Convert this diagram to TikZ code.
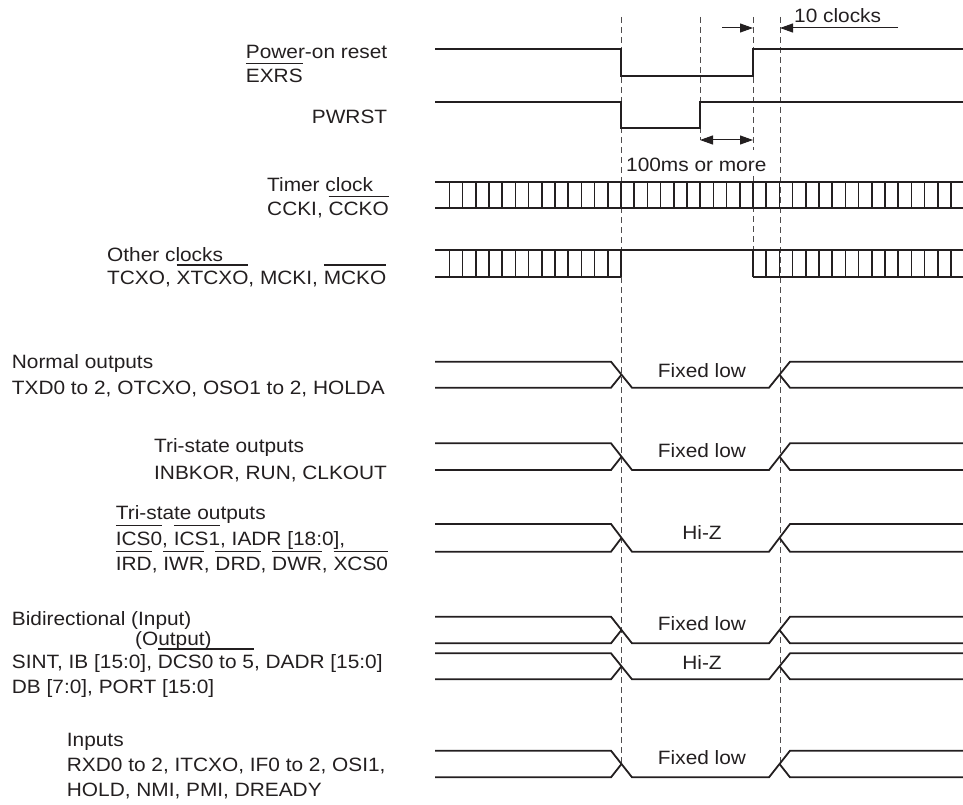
\documentclass[tikz,border=0pt]{standalone}
\usepackage{fontspec}
\setmainfont{Liberation Sans}[FakeStretch=1.08]
\usetikzlibrary{arrows.meta}
\definecolor{ink}{HTML}{231F20}
\newlength\ovlw
\newcommand\ovl[1]{\settowidth\ovlw{#1}\rlap{\rule[18.8pt]{\ovlw}{1.1pt}}#1}
\newcommand\busrow[2]{%
  \draw[sig] (435,#1) -- (611,#1) -- (632,#2) -- (769,#2) -- (790,#1) -- (963,#1);
  \draw[sig] (435,#2) -- (611,#2) -- (621.5,{(#1+#2)/2});
  \draw[sig] (779.5,{(#1+#2)/2}) -- (790,#2) -- (963,#2);}
\begin{document}
\begin{tikzpicture}[x=1pt,y=-1pt,
  lbl/.style={anchor=base west, inner sep=0pt, font=\fontsize{19.3}{23}\selectfont, text=ink},
  val/.style={anchor=base, inner sep=0pt, font=\fontsize{19.3}{23}\selectfont, text=ink},
  sig/.style={draw=ink, line width=1.8pt},
  clk/.style={draw=ink, line width=1.6pt},
  guide/.style={draw=ink!80, line width=0.9pt, dash pattern=on 6pt off 4pt},
  dim/.style={draw=ink, line width=1pt},
  tipr/.style={-{Triangle[length=13pt,width=9pt]}},
  tipb/.style={{Triangle[length=13pt,width=9pt]}-{Triangle[length=13pt,width=9pt]}}
]
\useasboundingbox (0,0) rectangle (963,805);

% guide lines
\draw[guide] (621,17) -- (621,764);
\draw[guide] (700,17) -- (700,140);
\draw[guide] (753,17) -- (753,150);
\draw[guide] (753,176) -- (753,250);
\draw[guide] (780,17) -- (780,764);

% labels
\node[lbl] (l1) at (245.7,58.3) {Power-on reset};
\node[lbl] (l2) at (245.7,82.7) {\ovl{EXRS}};
\node[lbl] (l3) at (311.7,123.3) {PWRST};
\node[lbl] (l4) at (267,191) {Timer clock};
\node[lbl] (l5) at (267,215.7) {CCKI, \ovl{CCKO}};
\node[lbl] (l6) at (107,261) {Other clocks};
\node[lbl] (l7) at (107,284.3) {TCXO, \ovl{XTCXO}, MCKI, \ovl{MCKO}};
\node[lbl] (l8) at (11.7,368.3) {Normal outputs};
\node[lbl] (l9) at (11.7,394) {TXD0 to 2, OTCXO, OSO1 to 2, HOLDA};
\node[lbl] (l10) at (154,452.7) {Tri-state outputs};
\node[lbl] (l11) at (154,479) {INBKOR, RUN, CLKOUT};
\node[lbl] (l12) at (115.7,519.3) {Tri-state outputs};
\node[lbl] (l13) at (115.7,545) {\ovl{ICS0}, \ovl{ICS1}, IADR [18:0],};
\node[lbl] (l14) at (115.7,570.7) {\ovl{IRD}, \ovl{IWR}, \ovl{DRD}, \ovl{DWR}, \ovl{XCS0}};
\node[lbl] (l15) at (11.7,625) {Bidirectional (Input)};
\node[lbl] (l16) at (135,645) {(Output)};
\node[lbl] (l17) at (11.7,668.3) {SINT, IB [15:0], \ovl{DCS0 to 5}, DADR [15:0]};
\node[lbl] (l18) at (11.7,693.3) {DB [7:0], PORT [15:0]};
\node[lbl] (l19) at (66.7,746.7) {Inputs};
\node[lbl] (l20) at (66.7,771.7) {RXD0 to 2, ITCXO, IF0 to 2, OSI1,};
\node[lbl] (l21) at (66.7,796.7) {HOLD, NMI, PMI, DREADY};

% EXRS and PWRST
\draw[sig] (435,49.3) -- (621,49.3) -- (621,76) -- (753,76) -- (753,49.3) -- (963,49.3);
\draw[sig] (435,102.3) -- (621,102.3) -- (621,128) -- (700,128) -- (700,102.3) -- (963,102.3);

% 10 clocks dimension
\coordinate (c10a) at (722,28);
\coordinate (c10b) at (753,28);
\coordinate (c10c) at (898,28);
\coordinate (c10d) at (780,28);
\draw[dim,tipr] (c10a) -- (c10b);
\draw[dim,tipr] (c10c) -- (c10d);
\node[lbl] (t10) at (794,22.5) {10 clocks};

% 100ms dimension
\coordinate (m1) at (700,140);
\coordinate (m2) at (753,140);
\draw[dim,tipb] (m1) -- (m2);
\node[lbl] (t100) at (626,172) {100ms or more};

% timer clock
\draw[clk] (435,182) -- (963,182);
\draw[clk] (435,208) -- (963,208);
\foreach \k in {0,...,38} \draw[clk] ({449.4+13.2*\k},182) -- ({449.4+13.2*\k},208);

% other clocks
\draw[clk] (435,250) -- (963,250);
\draw[clk] (435,277) -- (621,277);
\draw[clk] (753,277) -- (963,277);
\foreach \k in {0,...,13,23,24,...,38} \draw[clk] ({449.4+13.2*\k},250) -- ({449.4+13.2*\k},277);

% bus rows
\busrow{361.7}{387.7}
\busrow{443.3}{470}
\busrow{524}{551.7}
\busrow{616.7}{643.3}
\busrow{653.3}{679.3}
\busrow{750.7}{777.3}

\node[val] (v1) at (702,377.5) {Fixed low};
\node[val] (v2) at (702,457.7) {Fixed low};
\node[val] (v3) at (702,539) {Hi-Z};
\node[val] (v4) at (702,630.7) {Fixed low};
\node[val] (v5) at (702,669.3) {Hi-Z};
\node[val] (v6) at (702,764) {Fixed low};
\end{tikzpicture}
\end{document}
